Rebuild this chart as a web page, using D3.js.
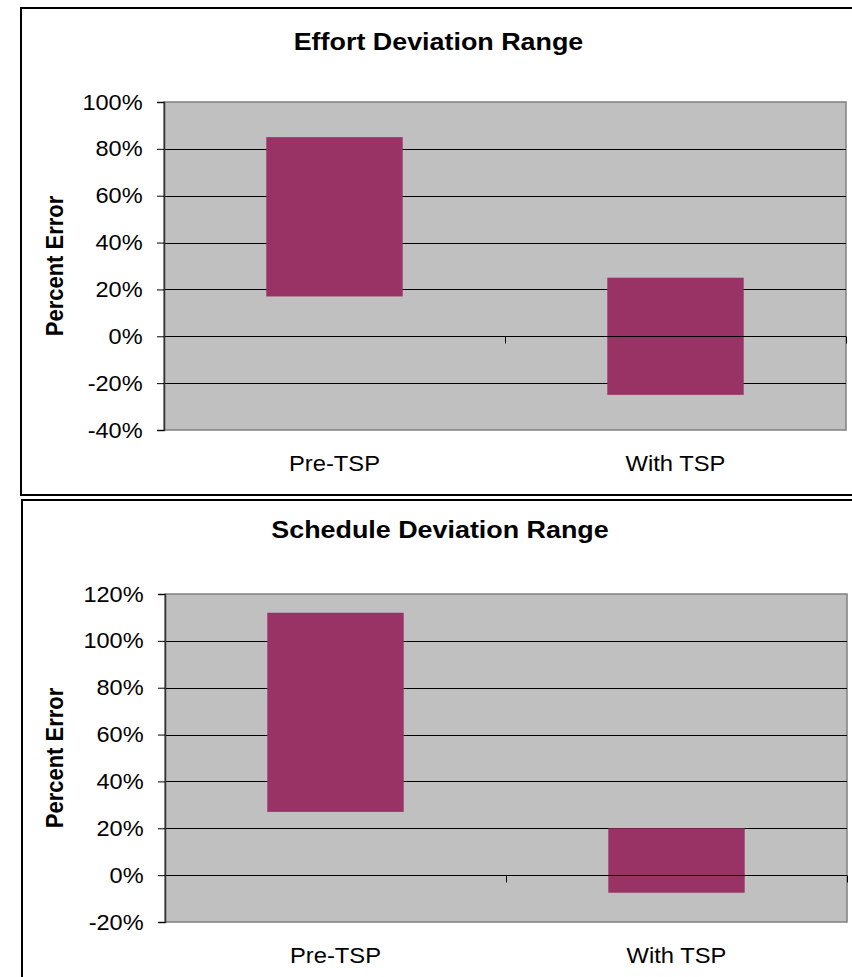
<!DOCTYPE html>
<html>
<head>
<meta charset="utf-8">
<script src="https://cdn.jsdelivr.net/npm/d3@7"></script>
<style>
  html, body { margin: 0; padding: 0; background: #fff; }
  svg { display: block; font-family: "Liberation Sans", Arial, sans-serif; }
</style>
</head>
<body>
<svg id="chart" width="852" height="977"></svg>
<script>
// Categories shared by both panels
const categories = ["Pre-TSP", "With TSP"];

// Effort deviation range (percent error): low and high end of each bar
const effortLow = [17, -25];
const effortHigh = [85, 25];
const effortTicks = [-40, -20, 0, 20, 40, 60, 80, 100];

// Schedule deviation range (percent error)
const scheduleLow = [27, -7.5];
const scheduleHigh = [112, 20];
const scheduleTicks = [-20, 0, 20, 40, 60, 80, 100, 120];

const titles = ["Effort Deviation Range", "Schedule Deviation Range"];
const yTitle = "Percent Error";

const svg = d3.select("#chart");

const BAR = "#993366";
const PLOT_BG = "#C0C0C0";

function panel(opts) {
  const { frame, plot, title, titleX, titleY, catY, low, high, ticks } = opts;

  const g = svg.append("g");

  // outer chart frame
  g.append("rect")
    .attr("x", frame.x).attr("y", frame.y)
    .attr("width", frame.w).attr("height", frame.h)
    .attr("fill", "#fff").attr("stroke", "#000").attr("stroke-width", 2);

  const y = d3.scaleLinear()
    .domain(d3.extent(ticks))
    .range([plot.y1, plot.y0]);

  const x = d3.scaleBand()
    .domain(categories)
    .range([plot.x0, plot.x1])
    .paddingInner(0.6)
    .paddingOuter(0.3);

  // plot area
  g.append("rect")
    .attr("x", plot.x0).attr("y", plot.y0)
    .attr("width", plot.x1 - plot.x0).attr("height", plot.y1 - plot.y0)
    .attr("fill", PLOT_BG).attr("stroke", "#808080").attr("stroke-width", 1.5);

  // horizontal gridlines
  g.append("g").selectAll("line")
    .data(ticks.filter(t => t !== ticks[0] && t !== ticks[ticks.length - 1]))
    .join("line")
    .attr("x1", plot.x0).attr("x2", plot.x1)
    .attr("y1", d => Math.round(y(d)) + 0.5).attr("y2", d => Math.round(y(d)) + 0.5)
    .attr("stroke", "#000").attr("stroke-width", 1);

  // floating range bars
  g.append("g").selectAll("rect")
    .data(categories.map((c, i) => ({ c, lo: low[i], hi: high[i] })))
    .join("rect")
    .attr("x", d => x(d.c))
    .attr("width", x.bandwidth())
    .attr("y", d => y(d.hi))
    .attr("height", d => y(d.lo) - y(d.hi))
    .attr("fill", BAR);

  // category axis along the zero line, ticks at category boundaries
  const step = x.step();
  const bounds = d3.range(categories.length + 1).map(i => plot.x0 + i * step);
  const y0 = Math.round(y(0)) + 0.5;
  g.append("line")
    .attr("x1", plot.x0).attr("x2", plot.x1)
    .attr("y1", y0).attr("y2", y0)
    .attr("stroke", "#000").attr("stroke-width", 1);
  g.append("g").selectAll("line")
    .data(bounds)
    .join("line")
    .attr("x1", d => Math.round(d) + 0.5).attr("x2", d => Math.round(d) + 0.5)
    .attr("y1", y0).attr("y2", y0 + 7)
    .attr("stroke", "#000").attr("stroke-width", 1);

  // value axis
  const yAxis = d3.axisLeft(y)
    .tickValues(ticks)
    .tickSize(7)
    .tickPadding(13)
    .tickFormat(d => d + "%");
  const ay = g.append("g")
    .attr("transform", `translate(${plot.x0},0)`)
    .call(yAxis);
  ay.select(".domain").attr("stroke", "#333").attr("stroke-width", 1.5);
  ay.selectAll(".tick line").attr("stroke", "#000");
  ay.selectAll(".tick text")
    .attr("fill", "#000")
    .attr("font-size", 22)
    .attr("font-family", "Liberation Sans, Arial, sans-serif")
    .attr("transform", "scale(1.07,1)");

  // category labels
  g.append("g").selectAll("text")
    .data(categories)
    .join("text")
    .attr("transform", d => `translate(${x(d) + x.bandwidth() / 2},${catY}) scale(1.08,1)`)
    .attr("text-anchor", "middle")
    .attr("font-size", 22)
    .attr("fill", "#000")
    .text(d => d);

  // chart title
  g.append("text")
    .attr("transform", `translate(${titleX},${titleY}) scale(1.12,1)`)
    .attr("text-anchor", "middle")
    .attr("font-size", 24)
    .attr("font-weight", "bold")
    .attr("fill", "#000")
    .text(title);

  // value axis title
  g.append("text")
    .attr("transform", `translate(63,${(plot.y0 + plot.y1) / 2}) scale(1.1,1) rotate(-90)`)
    .attr("text-anchor", "middle")
    .attr("font-size", 22)
    .attr("font-weight", "bold")
    .attr("fill", "#000")
    .text(yTitle);
}

panel({
  frame: { x: 21, y: 8, w: 860, h: 487 },
  plot: { x0: 164, x1: 846, y0: 102, y1: 430 },
  title: titles[0], titleX: 438.5, titleY: 50, catY: 471,
  low: effortLow, high: effortHigh, ticks: effortTicks
});

panel({
  frame: { x: 22, y: 500, w: 860, h: 500 },
  plot: { x0: 165, x1: 847, y0: 594, y1: 922 },
  title: titles[1], titleX: 440, titleY: 538, catY: 963,
  low: scheduleLow, high: scheduleHigh, ticks: scheduleTicks
});
</script>
</body>
</html>
